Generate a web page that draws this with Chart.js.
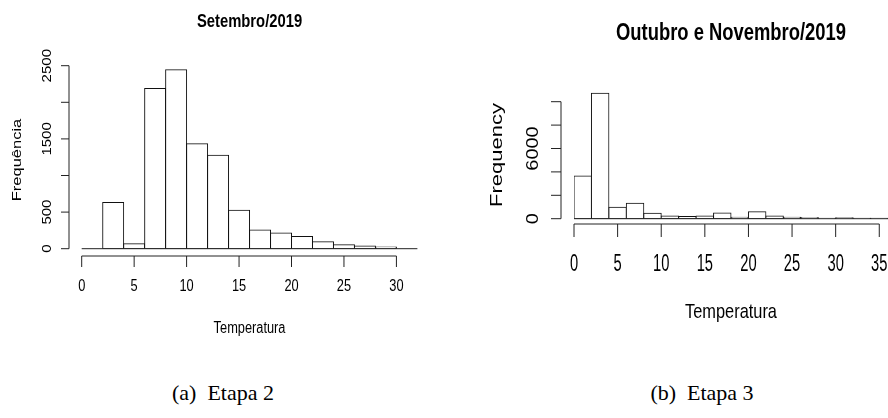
<!DOCTYPE html>
<html>
<head>
<meta charset="utf-8">
<title>Histogramas de temperatura</title>
<script src="https://cdn.jsdelivr.net/npm/chart.js@4"></script>
<style>
  body { margin: 0; background: #fff; width: 888px; height: 418px; position: relative; overflow: hidden; }
  .panel { position: absolute; top: 0; width: 444px; height: 340px; }
  .caption {
    position: absolute; top: 382px; line-height: 22px;
    font-family: "Liberation Serif", "Times New Roman", serif; font-size: 22px;
    transform: translateX(-50%); white-space: pre; color: #000;
  }
</style>
</head>
<body>
<div class="panel" style="left:0"><canvas id="chartSet" width="444" height="340"></canvas></div>
<div class="panel" style="left:444px"><canvas id="chartOutNov" width="444" height="340"></canvas></div>
<div class="caption" style="left:223px">(a)  Etapa 2</div>
<div class="caption" style="left:702px">(b)  Etapa 3</div>
<script>
const binWidth = 2;

// Setembro/2019
const setBins = [0, 2, 4, 6, 8, 10, 12, 14, 16, 18, 20, 22, 24, 26, 28, 30];
const setCounts = [0, 630, 68, 2190, 2445, 1435, 1275, 525, 255, 215, 165, 95, 55, 37, 23, 0];
const setXTicks = [0, 5, 10, 15, 20, 25, 30];
const setYTicks = [0, 500, 1000, 1500, 2000, 2500];
const setYLabels = [0, 500, 1500, 2500];

// Outubro e Novembro/2019
const onBins = [0, 2, 4, 6, 8, 10, 12, 14, 16, 18, 20, 22, 24, 26, 28, 30, 32, 34];
const onCounts = [3650, 10720, 975, 1315, 460, 230, 180, 230, 490, 115, 600, 230, 130, 100, 40, 80, 40, 30];
const onXTicks = [0, 5, 10, 15, 20, 25, 30, 35];
const onYTicks = [0, 2000, 4000, 6000, 8000, 10000];
const onYLabels = [0, 6000];

const FONT = '"Liberation Sans", Arial, Helvetica, sans-serif';

// texto comprimido horizontalmente, como na figura original
function rText(ctx, txt, x, y, size, sx, bold, rot) {
  ctx.save();
  ctx.translate(x, y);
  ctx.scale(sx, 1);
  if (rot) ctx.rotate(-Math.PI / 2);
  ctx.font = (bold ? 'bold ' : '') + size + 'px ' + FONT;
  ctx.textAlign = 'center';
  ctx.textBaseline = 'middle';
  ctx.fillStyle = '#000';
  ctx.fillText(txt, 0, 0);
  ctx.restore();
}

function seg(ctx, x1, y1, x2, y2) {
  ctx.beginPath();
  ctx.moveTo(x1, y1);
  ctx.lineTo(x2, y2);
  ctx.stroke();
}

// eixos no estilo do R (hist)
function rAxes(cfg) {
  return {
    id: 'rAxes',
    afterDatasetsDraw(chart) {
      const ctx = chart.ctx;
      const xs = chart.scales.x, ys = chart.scales.y;
      const area = chart.chartArea;
      const bins = cfg.bins;
      const yz = ys.getPixelForValue(0);
      ctx.save();
      ctx.strokeStyle = '#222';
      ctx.lineWidth = 1;

      // linha base das classes
      seg(ctx, xs.getPixelForValue(bins[0]), yz, xs.getPixelForValue(bins[bins.length - 1] + binWidth), yz);

      // eixo y
      const ax = xs.getPixelForValue(bins[0]) - cfg.yGap;
      seg(ctx, ax, ys.getPixelForValue(cfg.yTicks[0]), ax, ys.getPixelForValue(cfg.yTicks[cfg.yTicks.length - 1]));
      cfg.yTicks.forEach(v => {
        const py = ys.getPixelForValue(v);
        seg(ctx, ax, py, ax - cfg.yTickLen, py);
      });
      cfg.yLabels.forEach(v => {
        rText(ctx, String(v), ax - cfg.yLabelOff, ys.getPixelForValue(v), cfg.yTickSize, cfg.sx, false, true);
      });

      // eixo x
      const ay = yz + cfg.xGap;
      seg(ctx, xs.getPixelForValue(cfg.xTicks[0]), ay, xs.getPixelForValue(cfg.xTicks[cfg.xTicks.length - 1]), ay);
      cfg.xTicks.forEach(v => {
        const px = xs.getPixelForValue(v);
        seg(ctx, px, ay, px, ay + cfg.xTickLen);
        rText(ctx, String(v), px, ay + cfg.xLabelOff, cfg.xTickSize, cfg.xSx, false, false);
      });
      ctx.restore();

      const cx = (area.left + area.right) / 2;
      rText(ctx, cfg.title, cx, cfg.titleY, cfg.titleSize, cfg.titleSx, true, false);
      rText(ctx, cfg.xTitle, cx, cfg.xTitleY, cfg.xTitleSize, cfg.sx, false, false);
      rText(ctx, cfg.yTitle, cfg.yTitleX, cfg.yTitleY, cfg.yTitleSize, cfg.sx, false, true);
    }
  };
}

function makeHist(id, bins, counts, xMax, yMax, padding, axisCfg) {
  const ctx = document.getElementById(id).getContext('2d');
  return new Chart(ctx, {
    type: 'bar',
    data: {
      datasets: [{
        data: bins.map((b, i) => ({ x: b + binWidth / 2, y: counts[i] })),
        backgroundColor: '#fff',
        borderColor: '#111',
        borderWidth: 1,
        borderSkipped: false,
        inflateAmount: 0.5,
        barPercentage: 1,
        categoryPercentage: 1,
      }],
    },
    options: {
      responsive: false,
      animation: false,
      layout: { padding },
      scales: {
        x: { type: 'linear', min: 0, max: xMax, offset: false, display: false },
        y: { type: 'linear', min: 0, max: yMax, display: false },
      },
      plugins: {
        legend: { display: false },
        tooltip: { enabled: false },
      },
    },
    plugins: [rAxes(axisCfg)],
  });
}

makeHist('chartSet', setBins, setCounts, 32, 2500,
  { left: 81.7, right: 26.6, top: 65.7, bottom: 91.3 },
  {
    bins: setBins, xTicks: setXTicks, yTicks: setYTicks, yLabels: setYLabels,
    title: 'Setembro/2019', xTitle: 'Temperatura', yTitle: 'Frequência',
    sx: 0.8, xSx: 0.8, titleSx: 0.8,
    yGap: 12.7, yTickLen: 8, yLabelOff: 21, yTickSize: 15,
    xGap: 7.3, xTickLen: 11, xLabelOff: 31, xTickSize: 16,
    titleY: 22, titleSize: 18.5,
    xTitleY: 329, xTitleSize: 16,
    yTitleX: 17, yTitleY: 160, yTitleSize: 16.5,
  });

makeHist('chartOutNov', onBins, onCounts, 36, 12000,
  { left: 130, right: 0, top: 78.3, bottom: 121.3 },
  {
    bins: onBins, xTicks: onXTicks, yTicks: onYTicks, yLabels: onYLabels,
    title: 'Outubro e Novembro/2019', xTitle: 'Temperatura', yTitle: 'Frequency',
    sx: 0.78, xSx: 0.64, titleSx: 0.8,
    yGap: 13, yTickLen: 10, yLabelOff: 27, yTickSize: 20,
    xGap: 5.3, xTickLen: 13, xLabelOff: 41, xTickSize: 23,
    titleY: 34, titleSize: 23,
    xTitleY: 312, xTitleSize: 21,
    yTitleX: 53, yTitleY: 155, yTitleSize: 22,
  });
</script>
</body>
</html>
